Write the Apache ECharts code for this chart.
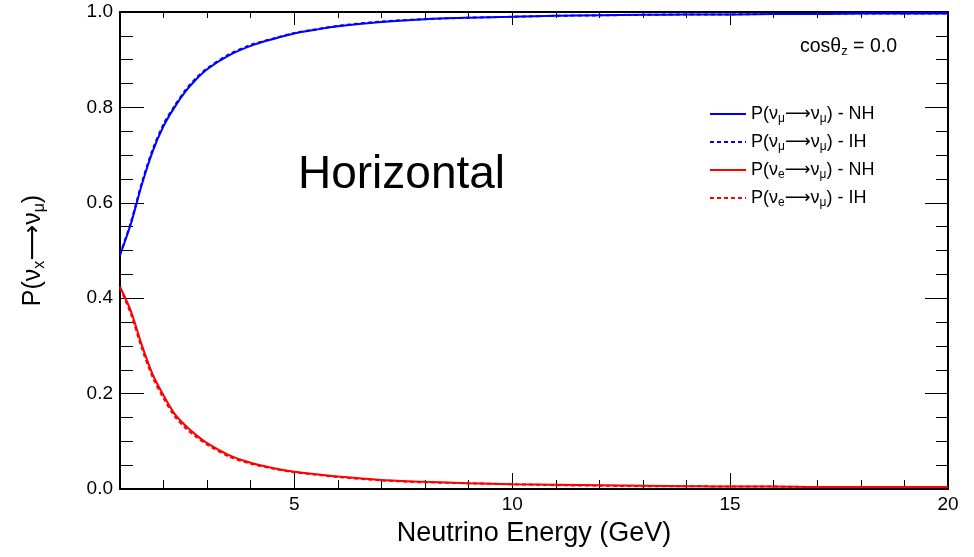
<!DOCTYPE html>
<html>
<head>
<meta charset="utf-8">
<script src="https://cdn.jsdelivr.net/npm/echarts@6.0.0/dist/echarts.min.js"></script>
<style>
  html, body { margin: 0; padding: 0; background: #fff; }
  #chart-prob { width: 974px; height: 557px; }
</style>
</head>
<body>
<div id="chart-prob"></div>
<script>
// neutrino energy (GeV)
const energy = [1, 1.25, 1.5, 1.75, 2, 2.25, 2.5, 2.75, 3, 3.5, 4, 4.5, 5, 5.5, 6, 7, 8, 9, 10, 11, 12, 13, 14, 15, 16, 17, 18, 19, 20];
// P(numu -> numu)
const muNH = [0.490, 0.556, 0.638, 0.708, 0.761, 0.800, 0.833, 0.859, 0.880, 0.909, 0.929, 0.943, 0.955, 0.963, 0.970, 0.979, 0.985, 0.988, 0.990, 0.992, 0.993, 0.994, 0.995, 0.995, 0.996, 0.996, 0.997, 0.997, 0.997];
const muIH = [0.492, 0.559, 0.642, 0.712, 0.765, 0.803, 0.836, 0.862, 0.882, 0.911, 0.931, 0.944, 0.956, 0.964, 0.971, 0.980, 0.985, 0.988, 0.990, 0.992, 0.993, 0.994, 0.995, 0.995, 0.996, 0.996, 0.997, 0.997, 0.997];
// P(nue -> numu)
const eNH = [0.424, 0.373, 0.302, 0.240, 0.196, 0.158, 0.133, 0.113, 0.096, 0.071, 0.055, 0.044, 0.036, 0.031, 0.026, 0.019, 0.015, 0.012, 0.010, 0.009, 0.008, 0.007, 0.006, 0.005, 0.005, 0.004, 0.004, 0.004, 0.004];
const eIH = [0.422, 0.367, 0.295, 0.234, 0.190, 0.153, 0.128, 0.109, 0.093, 0.068, 0.053, 0.043, 0.035, 0.030, 0.025, 0.018, 0.014, 0.012, 0.010, 0.008, 0.007, 0.006, 0.006, 0.005, 0.005, 0.004, 0.004, 0.004, 0.004];
const xMajor = [5, 10, 15, 20];

const FONT = 'Liberation Sans';
const legendText = {
  mumuNH: '{t|P(ν}{s|μ}{a|⟶}{t|ν}{s|μ}{t|) - NH}',
  mumuIH: '{t|P(ν}{s|μ}{a|⟶}{t|ν}{s|μ}{t|) - IH}',
  emuNH: '{t|P(ν}{s|e}{a|⟶}{t|ν}{s|μ}{t|) - NH}',
  emuIH: '{t|P(ν}{s|e}{a|⟶}{t|ν}{s|μ}{t|) - IH}'
};

function pairs(ys) {
  return energy.map((e, i) => [e, ys[i]]);
}

function line(name, ys, color, dashed) {
  return {
    name: name,
    type: 'line',
    xAxisIndex: 0,
    yAxisIndex: 0,
    data: pairs(ys),
    smooth: 0.3,
    symbol: 'none',
    lineStyle: { color: color, width: 2, type: dashed ? [4, 3] : 'solid' },
    itemStyle: { color: color },
    z: dashed ? 3 : 2
  };
}

// a bottom/top x axis; major ones carry the labels, minor ones only short ticks
function xAx(pos, major, tickLen) {
  const ax = {
    type: 'value', position: pos, min: 1, max: 20,
    splitLine: { show: false },
    axisLine: { show: major, onZero: false, lineStyle: { color: '#000', width: 2 } },
    axisTick: { show: true, inside: true, length: tickLen, lineStyle: { color: '#000', width: 1 } },
    axisLabel: { show: false }
  };
  if (major) {
    ax.axisTick.customValues = xMajor;
    ax.axisLabel = { show: pos === 'bottom', customValues: xMajor, color: '#000', fontSize: 19, fontFamily: FONT, margin: 6 };
  } else {
    ax.interval = 1;
  }
  return ax;
}

const myChart = echarts.init(document.getElementById('chart-prob'));
const option = {
  animation: false,
  backgroundColor: '#fff',
  grid: { left: 120, right: 26, top: 12, bottom: 68 },
  legend: {
    orient: 'vertical',
    left: 709, top: 105, padding: 0,
    itemWidth: 36, itemHeight: 14, itemGap: 8,
    data: ['mumuNH', 'mumuIH', 'emuNH', 'emuIH'],
    itemStyle: { opacity: 0 },   // only the line sample, no marker
    formatter: name => legendText[name],
    textStyle: {
      rich: {
        t: { fontSize: 18, fontFamily: FONT, color: '#000', lineHeight: 22 },
        a: { fontSize: 18, fontFamily: 'DejaVu Sans', color: '#000', lineHeight: 22 },
        s: { fontSize: 12, fontFamily: FONT, color: '#000', lineHeight: 11, verticalAlign: 'bottom' }
      }
    }
  },
  xAxis: [
    Object.assign(xAx('bottom', true, 16), {
      name: 'Neutrino Energy (GeV)',
      nameLocation: 'middle', nameGap: 31,
      nameTextStyle: { fontSize: 27, fontFamily: FONT, color: '#000' }
    }),
    xAx('bottom', false, 9),
    xAx('top', true, 13),
    xAx('top', false, 6)
  ],
  yAxis: [
    {
      type: 'value', position: 'left', min: 0, max: 1, interval: 0.2,
      splitLine: { show: false },
      axisLine: { show: true, onZero: false, lineStyle: { color: '#000', width: 2 } },
      axisTick: { inside: true, length: 24, lineStyle: { color: '#000', width: 1 } },
      minorTick: { show: true, splitNumber: 4, length: 13, lineStyle: { color: '#000', width: 1 } },
      axisLabel: { formatter: v => v.toFixed(1), color: '#000', fontSize: 19, fontFamily: FONT, margin: 7 },
      name: '{t|P(ν}{s|x}{a|⟶}{t|ν}{s|μ}{t|)}',
      nameLocation: 'middle', nameGap: 72, nameRotate: 90,
      nameTextStyle: {
        rich: {
          t: { fontSize: 25, fontFamily: FONT, color: '#000', lineHeight: 30 },
          a: { fontSize: 25, fontFamily: 'DejaVu Sans', color: '#000', lineHeight: 30 },
          s: { fontSize: 16, fontFamily: FONT, color: '#000', lineHeight: 15, verticalAlign: 'bottom' }
        }
      }
    },
    {
      type: 'value', position: 'right', min: 0, max: 1, interval: 0.2,
      splitLine: { show: false },
      axisLine: { show: true, onZero: false, lineStyle: { color: '#000', width: 2 } },
      axisTick: { inside: true, length: 23, lineStyle: { color: '#000', width: 1 } },
      minorTick: { show: true, splitNumber: 4, length: 12, lineStyle: { color: '#000', width: 1 } },
      axisLabel: { show: false }
    }
  ],
  graphic: [
    {
      type: 'text', left: 800, top: 37,
      style: {
        text: '{t|cosθ}{s|z}{t| = 0.0}',
        rich: {
          t: { fontSize: 19.5, fontFamily: FONT, fill: '#000', lineHeight: 22 },
          s: { fontSize: 13, fontFamily: FONT, fill: '#000', lineHeight: 12, verticalAlign: 'bottom' }
        }
      }
    },
    {
      type: 'text', left: 298, top: 152,
      style: { text: 'Horizontal', fontSize: 46, fontFamily: FONT, fill: '#000' }
    }
  ],
  series: [
    line('mumuNH', muNH, '#0000ff', false),
    line('mumuIH', muIH, '#0000ff', true),
    line('emuNH', eNH, '#ff0000', false),
    line('emuIH', eIH, '#ff0000', true)
  ]
};
myChart.setOption(option);
</script>
</body>
</html>
